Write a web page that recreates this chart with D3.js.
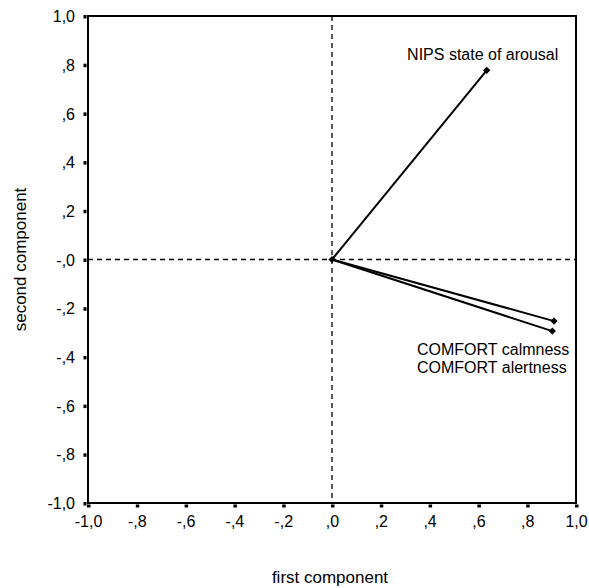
<!DOCTYPE html>
<html><head><meta charset="utf-8">
<script src="https://cdn.jsdelivr.net/npm/d3@7"></script>
<style>body{margin:0;background:#fff}svg{display:block}text{font-family:"Liberation Sans",Arial,sans-serif;fill:#000}</style>
</head><body><svg id="c" width="589" height="588"></svg>
<script>
const variables = ["NIPS state of arousal", "COMFORT calmness", "COMFORT alertness"];
const comp1 = [0.634, 0.910, 0.903];
const comp2 = [0.777, -0.253, -0.294];
const tickValues = [-1, -0.8, -0.6, -0.4, -0.2, 0, 0.2, 0.4, 0.6, 0.8, 1];
const xTickLabels = ["-1,0","-,8","-,6","-,4","-,2",",0",",2",",4",",6",",8","1,0"];
const yTickLabels = ["-1,0","-,8","-,6","-,4","-,2","-,0",",2",",4",",6",",8","1,0"];
const xTitle = "first component";
const yTitle = "second component";

const svg = d3.select("#c");
const L = 88, R = 576, T = 16, B = 503;
const x = d3.scaleLinear().domain([-1, 1]).range([L, R]);
const y = d3.scaleLinear().domain([-1, 1]).range([B, T]);

// dashed reference lines
svg.append("line").attr("x1", x(0)).attr("x2", x(0)).attr("y1", T).attr("y2", B)
  .attr("stroke", "#000").attr("stroke-width", 1.3).attr("stroke-dasharray", "5,4");
svg.append("line").attr("x1", L).attr("x2", R).attr("y1", y(0)).attr("y2", y(0))
  .attr("stroke", "#000").attr("stroke-width", 1.3).attr("stroke-dasharray", "5,4");

// frame
svg.append("rect").attr("x", L).attr("y", T).attr("width", R - L).attr("height", B - T)
  .attr("fill", "none").attr("stroke", "#000").attr("stroke-width", 2);

// axes
const xAxis = d3.axisBottom(x).tickValues(tickValues).tickSize(0).tickPadding(0)
  .tickFormat((d, i) => xTickLabels[i]);
const gx = svg.append("g").attr("transform", `translate(0,${B})`).call(xAxis);
gx.select(".domain").remove();
gx.selectAll("text").attr("font-size", 16).attr("y", 24).attr("dy", null)
  .attr("font-family", "Liberation Sans, Arial, sans-serif");
gx.selectAll(".tick").append("rect").attr("x", -1.5).attr("y", 1.5).attr("width", 3.5).attr("height", 3).attr("fill", "#000");

const yAxis = d3.axisLeft(y).tickValues(tickValues).tickSize(0).tickPadding(0)
  .tickFormat((d, i) => yTickLabels[i]);
const gy = svg.append("g").attr("transform", `translate(${L},0)`).call(yAxis);
gy.select(".domain").remove();
gy.selectAll("text").attr("font-size", 16).attr("x", -13).attr("dy", "0.35em")
  .attr("font-family", "Liberation Sans, Arial, sans-serif");
gy.selectAll(".tick").append("rect").attr("x", -4.5).attr("y", -1.5).attr("width", 3).attr("height", 3.5).attr("fill", "#000");

// vectors
const pts = variables.map((v, i) => ({name: v, a: comp1[i], b: comp2[i]}));
svg.selectAll("line.vec").data(pts).enter().append("line").attr("class", "vec")
  .attr("x1", x(0)).attr("y1", y(0)).attr("x2", d => x(d.a)).attr("y2", d => y(d.b))
  .attr("stroke", "#000").attr("stroke-width", 2);
const sym = d3.symbol().type(d3.symbolSquare).size(26);
svg.selectAll("path.mk").data([{a: 0, b: 0}].concat(pts)).enter().append("path").attr("class", "mk")
  .attr("transform", d => `translate(${x(d.a)},${y(d.b)}) rotate(45)`).attr("d", sym).attr("fill", "#000");

// labels
svg.append("text").attr("x", x(comp1[0]) - 4).attr("y", y(comp2[0]) - 10)
  .attr("text-anchor", "middle").attr("font-size", 16).text(variables[0]);
svg.append("text").attr("x", 417).attr("y", y(comp2[1]) + 34)
  .attr("font-size", 16).text(variables[1]);
svg.append("text").attr("x", 417).attr("y", y(comp2[1]) + 52)
  .attr("font-size", 16).text(variables[2]);

// titles
svg.append("text").attr("x", x(0) - 2).attr("y", 583).attr("text-anchor", "middle")
  .attr("font-size", 17).text(xTitle);
svg.append("text").attr("transform", `translate(26,${y(0)}) rotate(-90)`).attr("text-anchor", "middle")
  .attr("font-size", 17).text(yTitle);
</script></body></html>
